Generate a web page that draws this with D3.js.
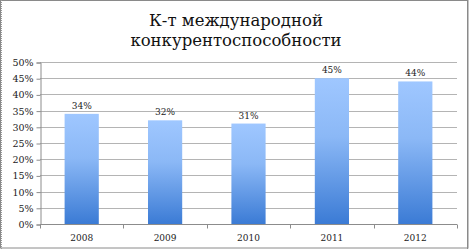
<!DOCTYPE html>
<html><head><meta charset="utf-8">
<script src="https://cdn.jsdelivr.net/npm/d3@7"></script>
<style>body{margin:0;background:#fff}svg{display:block}</style>
</head><body>
<script>
const years = ["2008","2009","2010","2011","2012"];
const values = [0.34,0.32,0.31,0.45,0.44];
const valueLabels = ["34%","32%","31%","45%","44%"];
const yTicks = [0,0.05,0.10,0.15,0.20,0.25,0.30,0.35,0.40,0.45,0.50];
const titleLines = ["К-т международной","конкурентоспособности"];

(function(){
const W=469,H=249;
const svg=d3.select("body").append("svg").attr("width",W).attr("height",H);
svg.append("rect").attr("x",0.5).attr("y",0.5).attr("width",W-1.5).attr("height",H-1.5)
  .attr("fill","#fff").attr("stroke","#8a8a8a").attr("stroke-width",1);
svg.append("line").attr("x1",1.5).attr("x2",1.5).attr("y1",0).attr("y2",H)
  .attr("stroke","#9a9a9a").attr("stroke-dasharray","1,1");
svg.append("line").attr("x1",W-1.5).attr("x2",W-1.5).attr("y1",0).attr("y2",H).attr("stroke","#8a8a8a");

const defs=svg.append("defs");
const g=defs.append("linearGradient").attr("id","bg").attr("x1",0).attr("y1",0).attr("x2",0).attr("y2",1);
g.append("stop").attr("offset","0%").attr("stop-color","#9fc7ff");
g.append("stop").attr("offset","40%").attr("stop-color","#8bb8f6");
g.append("stop").attr("offset","100%").attr("stop-color","#3b7bd5");

const pL=40,pR=457,pT=62,pB=224;
const x=d3.scaleBand().domain(years).range([pL,pR]).paddingInner(0.59).paddingOuter(0.295);
const y=d3.scaleLinear().domain([0,0.5]).range([pB,pT]);

const font="\"DejaVu Serif\", \"Liberation Serif\", serif";

svg.append("g").selectAll("line").data(yTicks.filter(d=>d>0)).join("line")
  .attr("x1",pL).attr("x2",pR).attr("y1",d=>Math.round(y(d))+0.5).attr("y2",d=>Math.round(y(d))+0.5)
  .attr("stroke","#b4b4b4");

const ya=svg.append("g").attr("transform",`translate(${pL+0.5},0.5)`)
  .call(d3.axisLeft(y).tickValues(yTicks).tickFormat(d3.format(".0%")).tickSize(4).tickPadding(3));
ya.attr("font-family",null).attr("font-size",null);
ya.select(".domain").attr("stroke","#8c8c8c");
ya.selectAll(".tick line").attr("stroke","#8c8c8c");
ya.selectAll("text").style("font-family",font).style("font-size","9.5px").attr("fill","#222");

svg.append("g").selectAll("rect").data(values).join("rect")
  .attr("x",(d,i)=>x(years[i])).attr("width",x.bandwidth())
  .attr("y",d=>y(d)).attr("height",d=>pB-y(d)).attr("fill","url(#bg)");

const xa=svg.append("g").attr("transform",`translate(0,${pB+0.5})`);
xa.append("line").attr("x1",pL).attr("x2",pR).attr("stroke","#8c8c8c");
const bounds=d3.range(years.length+1).map(i=>pL+i*(pR-pL)/years.length);
xa.selectAll("line.t").data(bounds).join("line").attr("class","t")
  .attr("x1",d=>Math.round(d)+0.5).attr("x2",d=>Math.round(d)+0.5).attr("y1",0).attr("y2",4).attr("stroke","#8c8c8c");
xa.selectAll("text").data(years).join("text")
  .attr("x",d=>x(d)+x.bandwidth()/2).attr("y",16).attr("text-anchor","middle")
  .style("font-family",font).style("font-size","9px").attr("fill","#222").text(d=>d);

svg.append("g").selectAll("text").data(values).join("text")
  .attr("x",(d,i)=>x(years[i])+x.bandwidth()/2).attr("y",d=>y(d)-5).attr("text-anchor","middle")
  .style("font-family",font).style("font-size","9px").attr("fill","#222").text((d,i)=>valueLabels[i]);

svg.append("g").selectAll("text").data(titleLines).join("text")
  .attr("x",236).attr("y",(d,i)=>25.5+i*20.5).attr("text-anchor","middle")
  .style("font-family",font).style("font-size","16.5px").attr("fill","#111").text(d=>d);
})();
</script>
</body></html>
